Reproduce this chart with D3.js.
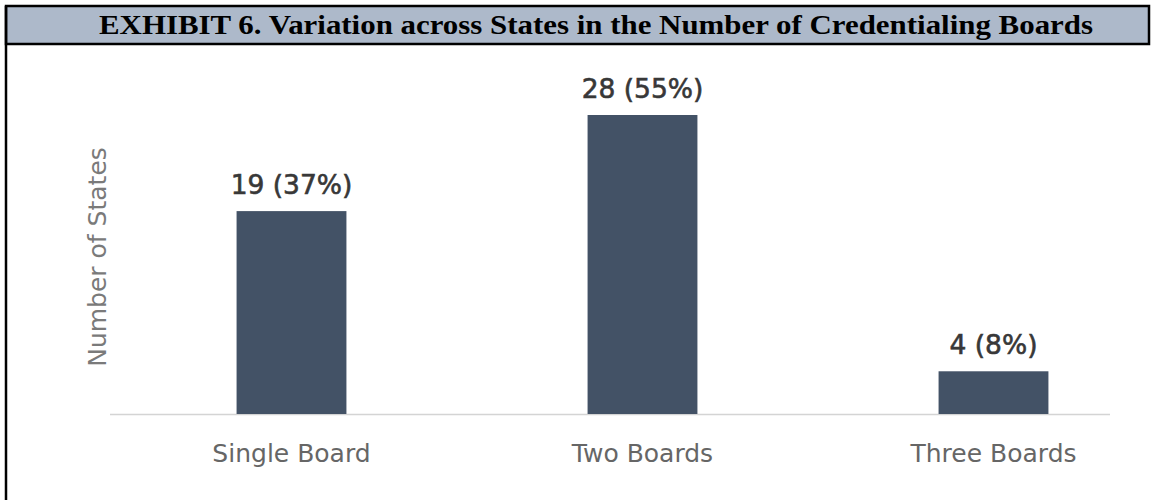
<!DOCTYPE html>
<meta charset="utf-8">
<style>
body { margin: 0; background: #fff; }
svg { display: block; }
.title { font-family: "Liberation Serif", "Times New Roman", serif; font-weight: bold; fill: #000; }
.value { font-family: "DejaVu Sans", sans-serif; fill: #383838; stroke: #383838; stroke-width: 0.6px; }
.cat { font-family: "DejaVu Sans", sans-serif; fill: #666; }
.ytitle { font-family: "DejaVu Sans", sans-serif; fill: #7a7a7a; }
</style>
<svg width="1153" height="500"></svg>
<script src="https://cdn.jsdelivr.net/npm/d3@7"></script>
<script>

const titleText = "EXHIBIT 6. Variation across States in the Number of Credentialing Boards";
const categories = ["Single Board", "Two Boards", "Three Boards"];
const counts = [19, 28, 4];
const percents = ["37%", "55%", "8%"];
const yTitle = "Number of States";

const barColour = "#435266";
const headerFill = "#adb9ca";

var svg = d3.select("svg");

// frame: header box + left rule down the page
svg.append("rect")
  .attr("x", 6).attr("y", 6)
  .attr("width", 1143).attr("height", 38)
  .attr("fill", headerFill)
  .attr("stroke", "#000")
  .attr("stroke-width", 2.5);

svg.append("line")
  .attr("x1", 6).attr("x2", 6)
  .attr("y1", 6).attr("y2", 500)
  .attr("stroke", "#000")
  .attr("stroke-width", 2.5);

svg.append("text")
  .attr("class", "title")
  .attr("x", 596).attr("y", 34)
  .attr("text-anchor", "middle")
  .attr("font-size", 28)
  .attr("textLength", 994)
  .attr("lengthAdjust", "spacingAndGlyphs")
  .text(titleText);

var x = d3.scaleBand()
  .domain(categories)
  .range([116, 1169])
  .paddingInner(0.687)
  .paddingOuter(0.3435);

var y = d3.scaleLinear()
  .domain([0, 28])
  .range([414, 115]);

// baseline
svg.append("line")
  .attr("x1", 110).attr("x2", 1110)
  .attr("y1", y(0) + 0.5).attr("y2", y(0) + 0.5)
  .attr("stroke", "#d4d4d4")
  .attr("stroke-width", 1.5);

var data = categories.map(function(c, i) { return {cat: c, n: counts[i], pct: percents[i]}; });

svg.selectAll(".bar")
  .data(data)
  .enter().append("rect")
  .attr("class", "bar")
  .attr("x", function(d) { return x(d.cat); })
  .attr("y", function(d) { return y(d.n); })
  .attr("width", x.bandwidth())
  .attr("height", function(d) { return y(0) - y(d.n); })
  .attr("fill", barColour);

svg.selectAll(".value")
  .data(data)
  .enter().append("text")
  .attr("class", "value")
  .attr("x", function(d) { return x(d.cat) + x.bandwidth() / 2; })
  .attr("y", function(d) { return y(d.n) - 17; })
  .attr("text-anchor", "middle")
  .attr("font-size", 26.5)
  .text(function(d) { return d.n + " (" + d.pct + ")"; });

svg.selectAll(".cat")
  .data(data)
  .enter().append("text")
  .attr("class", "cat")
  .attr("x", function(d) { return x(d.cat) + x.bandwidth() / 2; })
  .attr("y", 462)
  .attr("text-anchor", "middle")
  .attr("font-size", 25)
  .text(function(d) { return d.cat; });

svg.append("text")
  .attr("class", "ytitle")
  .attr("transform", "translate(106,257) rotate(-90)")
  .attr("text-anchor", "middle")
  .attr("font-size", 25)
  .text(yTitle);

</script>
